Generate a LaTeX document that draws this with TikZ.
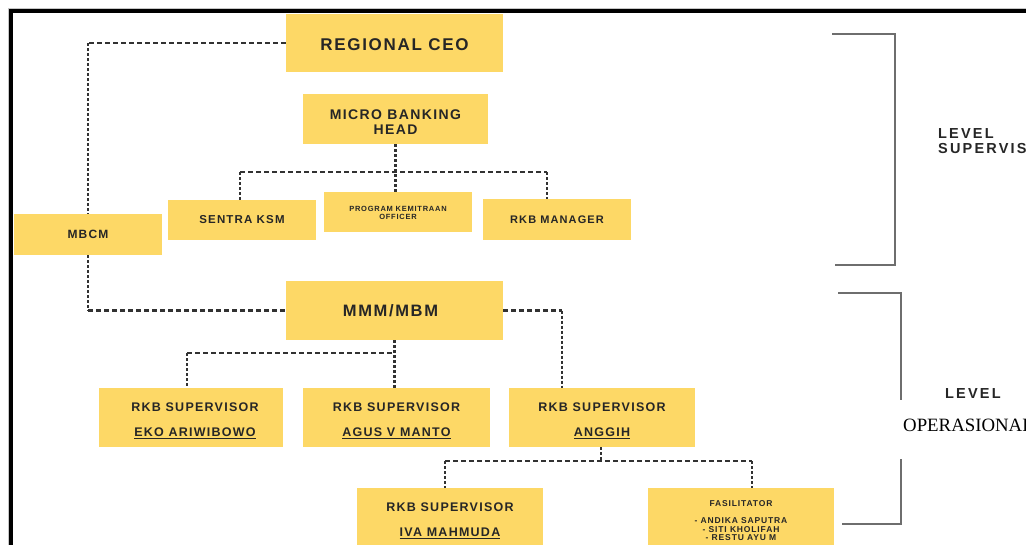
\documentclass[tikz,border=0pt]{standalone}
\usepackage{fontspec}
\newfontfamily\boxfont[LetterSpace=10]{Liberation Sans}
\newfontfamily\lvlfont[LetterSpace=15]{Liberation Sans}
\newfontfamily\serifont{Liberation Serif}
\definecolor{boxyellow}{RGB}{253,216,102}
\definecolor{boxtext}{RGB}{38,38,38}
\definecolor{conn}{RGB}{50,50,50}
\definecolor{brk}{RGB}{110,110,110}
\newcommand{\fs}[2]{\fontsize{#1}{#2}\selectfont}
% extra room above the first line: pushes a block of lines down by half of #1
\newcommand{\toppad}[1]{\rule{0pt}{\dimexpr 0.72em+#1\relax}}
\begin{document}
\begin{tikzpicture}[x=1pt,y=-1pt,
  box/.style={fill=boxyellow, inner sep=0pt, text=boxtext, align=center},
  hd/.style={draw=conn, line width=2.6pt, dash pattern=on 5pt off 3pt},
  vd/.style={draw=conn, line width=2.8pt, dash pattern=on 3pt off 2pt},
  brace/.style={draw=brk, line width=1.2pt},
  lvl/.style={inner sep=0pt, text=boxtext, align=left, font=\lvlfont\bfseries\fs{14.5}{15.5}}]
\useasboundingbox (0,0) rectangle (1026,544);
\clip (0,0) rectangle (1026,544);
\fill[white] (0,0) rectangle (1026,544);

% outer frame
\draw[gray!45, line width=0.8pt] (8.2,560) -- (8.2,8.2) -- (1040,8.2);
\draw[black, line width=4.5pt] (11,560) -- (11,11) -- (1040,11);

% boxes
\node[box, minimum width=217, minimum height=58, font=\boxfont\bfseries\fs{17}{18}] (ceo) at (394.5,43) {\toppad{3pt}REGIONAL CEO};
\node[box, minimum width=185, minimum height=50, font=\boxfont\bfseries\fs{14}{15}] (mbh) at (395.5,119) {\toppad{5pt}MICRO BANKING\\HEAD};
\node[box, minimum width=148, minimum height=41, font=\boxfont\bfseries\fs{12}{14}] (mbcm) at (88,234.5) {MBCM};
\node[box, minimum width=148, minimum height=40, font=\boxfont\bfseries\fs{11.5}{14}] (sentra) at (242,220) {SENTRA KSM};
\node[box, minimum width=148, minimum height=40, font=\boxfont\bfseries\fs{7.5}{8.5}] (prog) at (398,212) {\toppad{2pt}PROGRAM KEMITRAAN\\OFFICER};
\node[box, minimum width=148, minimum height=41, font=\boxfont\bfseries\fs{11}{14}] (rkbm) at (557,219.5) {RKB MANAGER};
\node[box, minimum width=217, minimum height=59, font=\boxfont\bfseries\fs{16.5}{19}] (mmm) at (394.5,310.5) {MMM/MBM\kern8pt};
\node[box, minimum width=184, minimum height=59, font=\boxfont\bfseries\fs{12.5}{15}] (eko) at (191,417.5) {\kern8pt\toppad{6pt}RKB SUPERVISOR\\[10pt]\kern8pt\underline{EKO ARIWIBOWO}};
\node[box, minimum width=187, minimum height=59, font=\boxfont\bfseries\fs{12.5}{15}] (agus) at (396.5,417.5) {\toppad{6pt}RKB SUPERVISOR\\[10pt]\underline{AGUS V MANTO}};
\node[box, minimum width=186, minimum height=59, font=\boxfont\bfseries\fs{12.5}{15}] (anggih) at (602,417.5) {\toppad{6pt}RKB SUPERVISOR\\[10pt]\underline{ANGGIH}};
\node[box, minimum width=186, minimum height=59, font=\boxfont\bfseries\fs{12.5}{15}] (iva) at (450,517.5) {\toppad{6pt}RKB SUPERVISOR\\[10pt]\underline{IVA MAHMUDA}};
\node[box, minimum width=186, minimum height=59, font=\boxfont\bfseries\fs{8.5}{8.7}] (fas) at (741,517.5) {\toppad{6pt}FASILITATOR\\[8.3pt]- ANDIKA SAPUTRA\\- SITI KHOLIFAH\\- RESTU AYU M};

% bus levels and drop points
\coordinate (busA) at (0,172);
\coordinate (busB) at (0,353);
\coordinate (busC) at (0,461);
\coordinate (sentraIn) at ([xshift=-2pt]sentra.north);
\coordinate (rkbmIn) at ([xshift=-10pt]rkbm.north);
\coordinate (ekoIn) at ([xshift=-4pt]eko.north);
\coordinate (anggihIn) at ([xshift=-40pt]anggih.north);
\coordinate (anggihOut) at ([xshift=-1pt]anggih.south);
\coordinate (ivaIn) at ([xshift=-5pt]iva.north);
\coordinate (fasIn) at ([xshift=11pt]fas.north);

% CEO -- MBCM -- MMM/MBM
\draw[hd] (ceo.west) -- (mbcm.north |- ceo.west);
\draw[vd] (mbcm.north |- ceo.west) -- (mbcm.north);
\draw[vd] (mbcm.south) -- (mbcm.south |- mmm.west);
\draw[hd] (mbcm.south |- mmm.west) -- (mmm.west);

% Micro Banking Head to its three units
\draw[vd] (mbh.south) -- (mbh.south |- prog.north);
\draw[hd] (sentraIn |- busA) -- (rkbmIn |- busA);
\draw[vd] (sentraIn |- busA) -- (sentraIn);
\draw[vd] (rkbmIn |- busA) -- (rkbmIn);

% MMM/MBM to supervisors
\draw[vd] (mmm.south) -- (mmm.south |- agus.north);
\draw[hd] (ekoIn |- busB) -- (mmm.south |- busB);
\draw[vd] (ekoIn |- busB) -- (ekoIn);
\draw[hd] (mmm.east) -- (anggihIn |- mmm.east);
\draw[vd] (anggihIn |- mmm.east) -- (anggihIn);

% Anggih to Iva and the facilitators
\draw[vd] (anggihOut) -- (anggihOut |- busC);
\draw[hd] (ivaIn |- busC) -- (fasIn |- busC);
\draw[vd] (ivaIn |- busC) -- (ivaIn);
\draw[vd] (fasIn |- busC) -- (fasIn);

% level brackets
\draw[brace] (832,34) -- (895,34) -- (895,265) -- (835,265);
\draw[brace] (838,293) -- (901,293) -- (901,524) -- (842,524);

% level labels
\node[lvl, anchor=north west] (lvlsup) at (938,128) {LEVEL\\SUPERVISI};
\node[lvl, anchor=north west] (lvlopl) at (945,388) {LEVEL};
\node[fill=white, anchor=west, minimum height=59, text width=190pt, inner xsep=6pt, inner ysep=0pt, align=left,
      text=black, font=\serifont\fs{18.8}{20}] (lvlops) at (897,429.5) {OPERASIONAL\rule[-9pt]{0pt}{1pt}};
\end{tikzpicture}
\end{document}
